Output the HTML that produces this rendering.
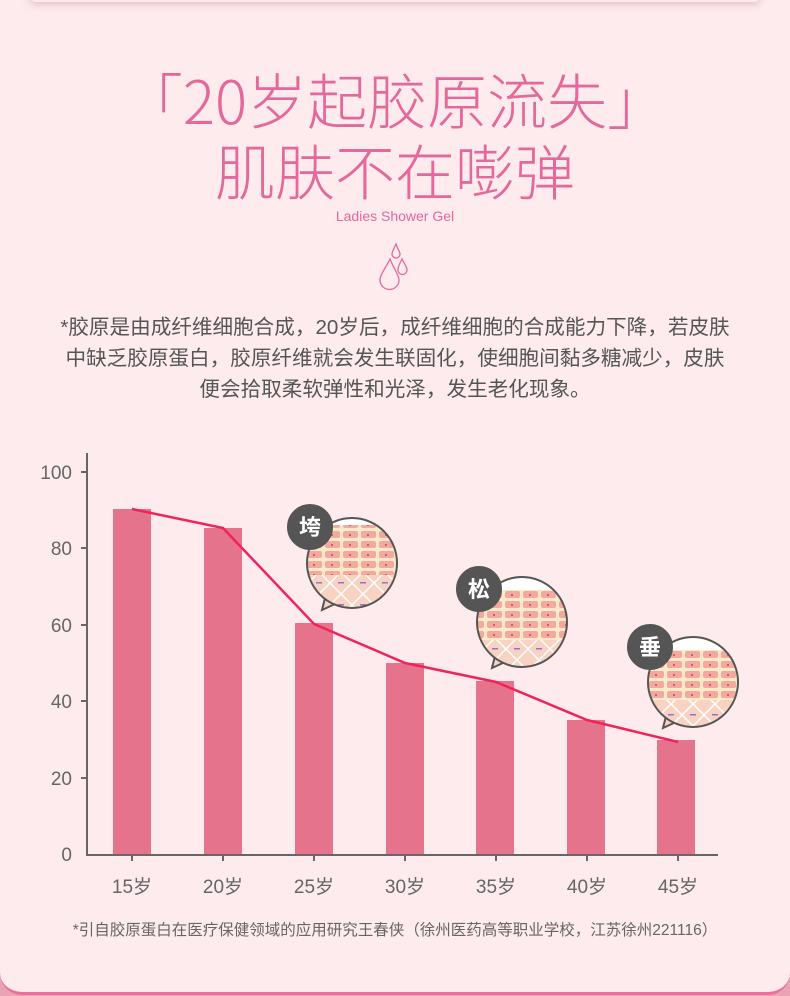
<!DOCTYPE html>
<html><head><meta charset="utf-8"><style>
body{margin:0;width:790px;height:996px;background:#e9a3b5;overflow:hidden;font-family:"Liberation Sans","Noto Sans CJK SC",sans-serif;}
.card{position:absolute;left:0;top:0;width:790px;height:992px;background:#fdebed;border-radius:0 0 22px 22px;border-bottom:3px solid #e8709a;}
.shadow{position:absolute;left:30px;top:-10px;width:730px;height:12px;border-radius:10px;box-shadow:0 2px 8px rgba(200,140,150,.5);background:#fdebed}
.t{position:absolute;left:0;width:790px;text-align:center;color:#e4689a;}
</style></head><body>
<div class="card"></div><div class="shadow"></div>
<div class="t" style="top:64px;font-size:60px;line-height:70px;font-weight:300;font-family:'Noto Sans CJK SC',sans-serif;">「20岁起胶原流失」</div>
<div class="t" style="top:140px;font-size:60px;line-height:70px;font-weight:300;">肌肤不在嘭弹</div>
<div class="t" style="top:208px;font-size:14px;">Ladies Shower Gel</div>
<svg style="position:absolute;left:375px;top:243px" width="40" height="50" viewBox="0 0 40 50" fill="none" stroke="#e4689a" stroke-width="1.3">
<path d="M15 16 C10 26 5 32 5 37 a9.5 9.5 0 0 0 19 0 C24 32 19 26 15 16Z"/><path d="M21 1 C18 7 17 9 17 11 a4 4 0 0 0 8 0 C25 9 23 7 21 1Z"/><path d="M27 16 C24 22 23 24 23 27 a4.5 4.5 0 0 0 9 0 C32 24 30 22 27 16Z"/></svg>
<div class="t" style="top:312px;font-size:20.6px;line-height:31px;color:#555;">*胶原是由成纤维细胞合成，20岁后，成纤维细胞的合成能力下降，若皮肤<br>中缺乏胶原蛋白，胶原纤维就会发生联固化，使细胞间黏多糖减少，皮肤<br>便会拾取柔软弹性和光泽，发生老化现象。</div>
<svg style="position:absolute;left:0;top:440px" width="790" height="460" viewBox="0 440 790 460">
<defs>
<pattern id="sk" width="18" height="10" patternUnits="userSpaceOnUse"><rect width="18" height="10" fill="#fbe9c8"/><rect x="1" y="1" width="15" height="7" rx="2" fill="#f3a9a0"/><circle cx="8" cy="5" r="1" fill="#c94060"/></pattern>
<pattern id="dm" width="22" height="22" patternUnits="userSpaceOnUse"><rect width="22" height="22" fill="#f8d3c2"/><path d="M0 11 L11 0 L22 11 L11 22Z" fill="none" stroke="#fff" stroke-width="1.5"/><rect x="8" y="10" width="6" height="1.5" fill="#8877dd"/></pattern>
<clipPath id="c1"><circle cx="352" cy="563" r="45"/></clipPath>
<clipPath id="c2"><circle cx="522" cy="622" r="45"/></clipPath>
<clipPath id="c3"><circle cx="693" cy="682" r="45"/></clipPath>
</defs>
<g font-size="19" fill="#666" text-anchor="end">
<text x="72" y="479">100</text><text x="72" y="555">80</text><text x="72" y="632">60</text><text x="72" y="708">40</text><text x="72" y="785">20</text><text x="72" y="861">0</text></g>
<g stroke="#666" stroke-width="2">
<line x1="87" y1="453" x2="87" y2="855"/><line x1="86" y1="855" x2="718" y2="855"/>
<line x1="81" y1="472" x2="87" y2="472"/><line x1="81" y1="548" x2="87" y2="548"/><line x1="81" y1="625" x2="87" y2="625"/><line x1="81" y1="701" x2="87" y2="701"/><line x1="81" y1="778" x2="87" y2="778"/>
<line x1="132" y1="855" x2="132" y2="861"/><line x1="223" y1="855" x2="223" y2="861"/><line x1="314" y1="855" x2="314" y2="861"/><line x1="405" y1="855" x2="405" y2="861"/><line x1="496" y1="855" x2="496" y2="861"/><line x1="587" y1="855" x2="587" y2="861"/><line x1="678" y1="855" x2="678" y2="861"/></g>
<g fill="#e5738c">
<rect x="113" y="509" width="38" height="345"/><rect x="204" y="528" width="38" height="326"/><rect x="295" y="623" width="38" height="231"/><rect x="386" y="663" width="38" height="191"/><rect x="476" y="681" width="38" height="173"/><rect x="567" y="720" width="38" height="134"/><rect x="657" y="740" width="38" height="114"/></g>
<polyline points="132,509 223,528 314,624 405,663 496,682 587,720 678,742" fill="none" stroke="#f0245a" stroke-width="2.5"/>
<g font-size="19" fill="#666" text-anchor="middle">
<text x="132" y="893">15岁</text><text x="223" y="893">20岁</text><text x="314" y="893">25岁</text><text x="405" y="893">30岁</text><text x="496" y="893">35岁</text><text x="587" y="893">40岁</text><text x="678" y="893">45岁</text></g>
<g stroke="#555" stroke-width="2">
<g><path d="M325 598 L322 610 L335 604" fill="#f8d3c2"/><g clip-path="url(#c1)" stroke="none"><rect x="300" y="510" width="110" height="110" fill="#fff"/><rect x="300" y="525" width="110" height="50" fill="url(#sk)"/><rect x="300" y="575" width="110" height="40" fill="url(#dm)"/></g><circle cx="352" cy="563" r="45" fill="none"/><circle cx="310" cy="527" r="22" fill="#555"/></g>
<g><path d="M495 656 L492 668 L505 662" fill="#f8d3c2"/><g clip-path="url(#c2)" stroke="none"><rect x="470" y="570" width="110" height="110" fill="#fff"/><rect x="470" y="590" width="110" height="50" fill="url(#sk)"/><rect x="470" y="640" width="110" height="40" fill="url(#dm)"/></g><circle cx="522" cy="622" r="45" fill="none"/><circle cx="479" cy="589" r="22" fill="#555"/></g>
<g><path d="M666 716 L663 728 L676 722" fill="#f8d3c2"/><g clip-path="url(#c3)" stroke="none"><rect x="640" y="630" width="110" height="110" fill="#fff"/><rect x="640" y="650" width="110" height="50" fill="url(#sk)"/><rect x="640" y="700" width="110" height="40" fill="url(#dm)"/></g><circle cx="693" cy="682" r="45" fill="none"/><circle cx="650" cy="647" r="22" fill="#555"/></g>
</g>
<g font-size="22" fill="#fff" text-anchor="middle" font-weight="bold">
<text x="310" y="535">垮</text><text x="479" y="597">松</text><text x="650" y="655">垂</text></g>
</svg>
<div class="t" style="top:918px;font-size:15.5px;color:#666;">*引自胶原蛋白在医疗保健领域的应用研究王春侠（徐州医药高等职业学校，江苏徐州221116）</div>
</body></html>
